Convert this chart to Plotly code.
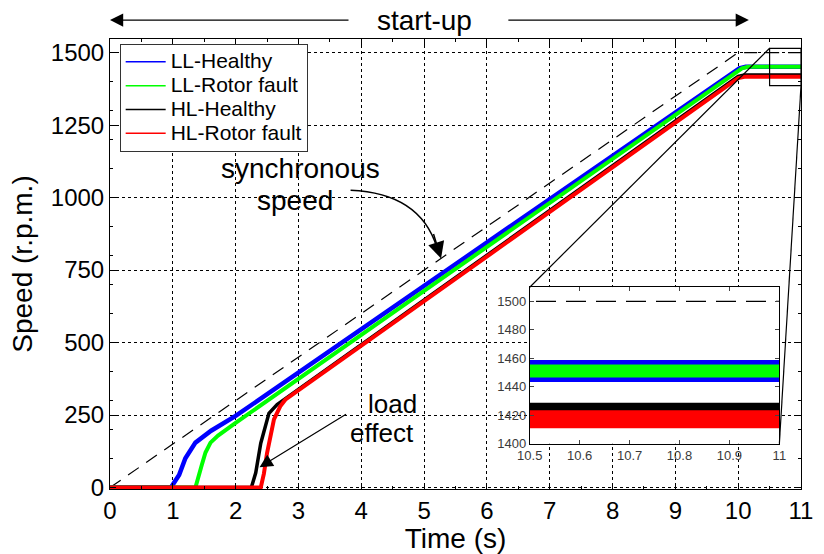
import plotly.graph_objects as go

# ---------------- data ----------------
t_sync = [0.0, 10.0, 11.0]
v_sync = [0, 1500, 1500]

t_ll_healthy = [0.0, 0.97, 1.1, 1.2, 1.36, 1.61, 2.0, 10.02, 10.12, 11.0]
v_ll_healthy = [0, 0, 43, 101, 155, 196, 247, 1446, 1451, 1451]

t_ll_fault = [0.0, 1.36, 1.46, 1.52, 1.6, 1.72, 2.0, 10.06, 10.16, 11.0]
v_ll_fault = [0, 0, 77, 121, 155, 179, 223, 1446, 1451, 1451]

t_hl_healthy = [0.0, 2.25, 2.32, 2.4, 2.53, 2.66, 10.0, 10.1, 11.0]
v_hl_healthy = [0, 0, 51, 153, 256, 286, 1418, 1423, 1423]

t_hl_fault = [0.0, 2.4, 2.45, 2.5, 2.61, 2.71, 2.79, 10.0, 10.1, 11.0]
v_hl_fault = [0, 0, 48, 119, 235, 280, 303, 1412, 1417, 1417]

series_names = ["LL-Healthy", "LL-Rotor fault", "HL-Healthy", "HL-Rotor fault"]
series_t = [t_ll_healthy, t_ll_fault, t_hl_healthy, t_hl_fault]
series_v = [v_ll_healthy, v_ll_fault, v_hl_healthy, v_hl_fault]

x_ticks = list(range(0, 12))
y_ticks = [0, 250, 500, 750, 1000, 1250, 1500]
inset_x_ticks = [10.5, 10.6, 10.7, 10.8, 10.9, 11.0]
inset_x_labels = ["10.5", "10.6", "10.7", "10.8", "10.9", "11"]
inset_y_ticks = [1400, 1420, 1440, 1460, 1480, 1500]

# ---------------- styles ----------------
colors = ["#0000FF", "#00FF00", "#000000", "#FF0000"]
main_widths = [4.5, 4, 3.5, 4]
inset_widths = [22, 13, 16, 18]
FONT = "Liberation Sans, Arial, sans-serif"
TXT = 28

X_RANGE = [0, 11]
Y_RANGE = [-5, 1547]
INSET_XD = [0.6074, 0.9687]
INSET_YD = [0.1011, 0.4484]
ZOOM_Y = [1386, 1515]


def paper_to_data(px, py):
    return (X_RANGE[0] + px * (X_RANGE[1] - X_RANGE[0]),
            Y_RANGE[0] + py * (Y_RANGE[1] - Y_RANGE[0]))


fig = go.Figure()

# synchronous speed (main)
fig.add_trace(go.Scatter(x=t_sync, y=v_sync, mode="lines", showlegend=False,
                         line=dict(color="black", width=1.2, dash="13px,9px"),
                         xaxis="x", yaxis="y"))
for name, tt, vv, c, w in zip(series_names, series_t, series_v, colors, main_widths):
    fig.add_trace(go.Scatter(x=tt, y=vv, mode="lines", showlegend=False,
                             line=dict(color=c, width=w), xaxis="x", yaxis="y"))
# legend entries
for name, c in zip(series_names, colors):
    fig.add_trace(go.Scatter(x=[None], y=[None], mode="lines",
                             name=f"<span style='font-size:21px'>{name}</span>",
                             line=dict(color=c, width=1.5), xaxis="x", yaxis="y"))

# inset
fig.add_trace(go.Scatter(x=t_sync, y=v_sync, mode="lines", showlegend=False,
                         line=dict(color="black", width=1.3, dash="20px,10px"),
                         xaxis="x2", yaxis="y2"))
for name, tt, vv, c, w in zip(series_names, series_t, series_v, colors, inset_widths):
    fig.add_trace(go.Scatter(x=tt, y=vv, mode="lines", showlegend=False,
                             line=dict(color=c, width=w), xaxis="x2", yaxis="y2"))

ax_common = dict(showline=True, linecolor="black", linewidth=1, mirror="ticks",
                 ticks="inside", ticklen=6, tickcolor="black", zeroline=False,
                 tickfont=dict(family=FONT, size=24, color="black"))

fig.update_layout(
    width=824, height=554,
    margin=dict(l=110, r=11, t=39, b=60),
    paper_bgcolor="white", plot_bgcolor="white",
    font=dict(family=FONT, color="black"),
    xaxis=dict(range=X_RANGE, tickvals=x_ticks, showgrid=True, gridcolor="black",
               griddash="dot", gridwidth=1,
               minor=dict(ticks="inside", ticklen=3, nticks=5, tickcolor="black"),
               title=dict(text="Time (s)", font=dict(family=FONT, size=TXT), standoff=0),
               **ax_common),
    yaxis=dict(range=Y_RANGE, tickvals=y_ticks, showgrid=True, gridcolor="black",
               griddash="dot", gridwidth=1,
               minor=dict(ticks="inside", ticklen=3, nticks=6, tickcolor="black"),
               title=dict(text="Speed (r.p.m.)", font=dict(family=FONT, size=TXT), standoff=10),
               **ax_common),
    xaxis2=dict(domain=INSET_XD, anchor="y2", range=[10.5, 11.0], tickvals=inset_x_ticks,
                ticktext=inset_x_labels, showgrid=False, showline=True, linecolor="black",
                mirror="ticks", ticks="inside", ticklen=4, zeroline=False,
                tickfont=dict(family=FONT, size=13, color="#3a3a3a")),
    yaxis2=dict(domain=INSET_YD, anchor="x2", range=[1400, 1510], tickvals=inset_y_ticks,
                showgrid=False, showline=True, linecolor="black",
                mirror="ticks", ticks="inside", ticklen=4, zeroline=False,
                tickfont=dict(family=FONT, size=13, color="#3a3a3a")),
    legend=dict(x=0.014, y=0.989, xanchor="left", yanchor="top",
                bgcolor="white", bordercolor="#333333", borderwidth=1,
                font=dict(family=FONT, size=16, color="black"),
                tracegroupgap=0, itemwidth=40),
)

# white cover behind inset (hides main grid)
ix0, iy0 = paper_to_data(INSET_XD[0], INSET_YD[0])
ix1, iy1 = paper_to_data(INSET_XD[1], INSET_YD[1])
fig.add_shape(type="rect", xref="x", yref="y", x0=ix0, y0=iy0, x1=ix1, y1=iy1,
              fillcolor="white", line=dict(width=0), layer="between")

# zoom box and connector lines
fig.add_shape(type="rect", xref="x", yref="y", x0=10.5, x1=11.0, y0=ZOOM_Y[0], y1=ZOOM_Y[1],
              line=dict(color="black", width=1.2), layer="above")
fig.add_shape(type="line", xref="x", yref="y", x0=10.5, y0=ZOOM_Y[1], x1=ix0, y1=iy1,
              line=dict(color="black", width=1.2), layer="above")
fig.add_shape(type="line", xref="x", yref="y", x0=11.0, y0=ZOOM_Y[0], x1=ix1, y1=iy0,
              line=dict(color="black", width=1.2), layer="above")

# synchronous speed annotation (curved arrow)
fig.add_shape(type="path", xref="x", yref="y",
              path="M 3.83,1025 Q 4.93,1015 5.2,830",
              line=dict(color="black", width=1.5), layer="above")
fig.add_annotation(x=5.27, y=790, xref="x", yref="y", ax=-8, ay=-26, text="",
                   showarrow=True, arrowhead=2, arrowsize=2.2, arrowwidth=1.5,
                   arrowcolor="black", standoff=0)
fig.add_annotation(x=3.04, y=1100, xref="x", yref="y", text="synchronous", showarrow=False,
                   font=dict(family=FONT, size=TXT, color="black"))
fig.add_annotation(x=2.94, y=991, xref="x", yref="y", text="speed", showarrow=False,
                   font=dict(family=FONT, size=TXT, color="black"))

# load effect annotation
fig.add_annotation(x=2.38, y=70, xref="x", yref="y", ax=88, ay=-54, text="",
                   showarrow=True, arrowhead=2, arrowsize=2.2, arrowwidth=1.2,
                   arrowcolor="black", standoff=0)
fig.add_annotation(x=4.49, y=288, xref="x", yref="y", text="load", showarrow=False,
                   font=dict(family=FONT, size=26, color="black"))
fig.add_annotation(x=4.33, y=189, xref="x", yref="y", text="effect", showarrow=False,
                   font=dict(family=FONT, size=26, color="black"))

# start-up annotation
fig.add_annotation(x=0.0, y=1.042, xref="x", yref="paper", ax=240, ay=0, text="",
                   showarrow=True, arrowhead=2, arrowsize=2.2, arrowwidth=1.2,
                   arrowcolor="black", standoff=0)
fig.add_annotation(x=10.17, y=1.042, xref="x", yref="paper", ax=-242, ay=0, text="",
                   showarrow=True, arrowhead=2, arrowsize=2.2, arrowwidth=1.2,
                   arrowcolor="black", standoff=0)
fig.add_annotation(x=5.0, y=1.042, xref="x", yref="paper", yanchor="middle", xanchor="center",
                   text="start-up", showarrow=False,
                   font=dict(family=FONT, size=TXT, color="black"))

fig.write_html("out.html")
